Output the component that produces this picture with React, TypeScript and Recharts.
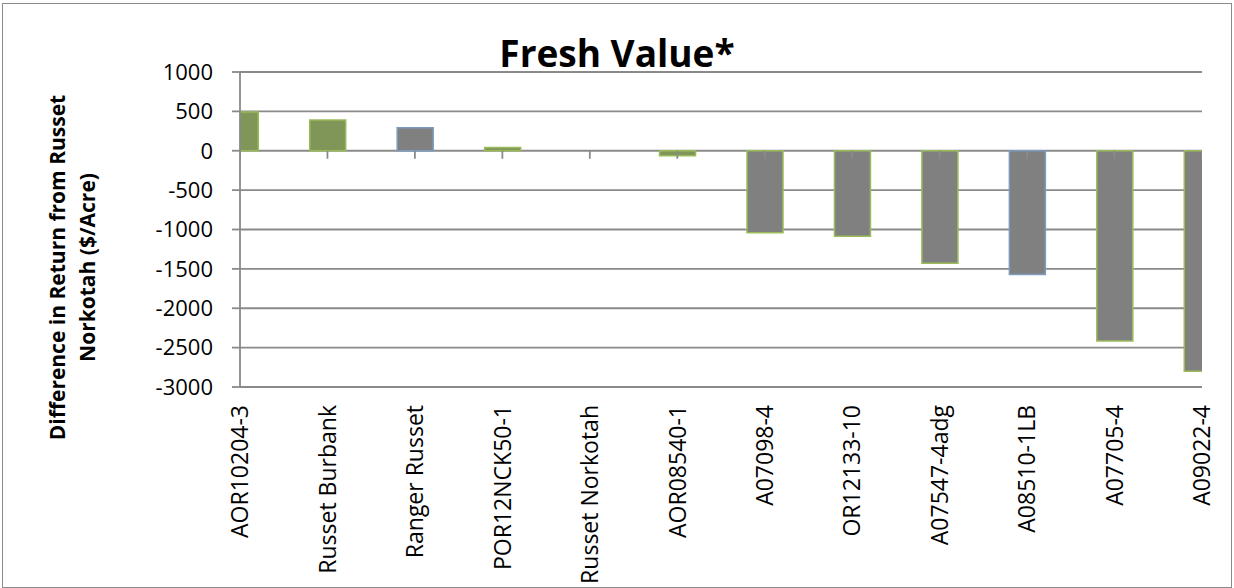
import React from 'react';
import { ComposedChart, Bar, Cell, Scatter, XAxis, YAxis, CartesianGrid } from 'recharts';

const cultivars = [
	'AOR10204-3',
	'Russet Burbank',
	'Ranger Russet',
	'POR12NCK50-1',
	'Russet Norkotah',
	'AOR08540-1',
	'A07098-4',
	'OR12133-10',
	'A07547-4adg',
	'A08510-1LB',
	'A07705-4',
	'A09022-4',
];
const returnDiff = [492, 390, 292, 40, 0, -65, -1040, -1085, -1430, -1570, -2415, -2800];
const yTicks = [1000, 500, 0, -500, -1000, -1500, -2000, -2500, -3000];

// per-bar styling, same order as cultivars
const GREEN = '#809659';
const GRAY = '#808080';
const barFill = [GREEN, GREEN, GRAY, GREEN, GREEN, GREEN, GRAY, GRAY, GRAY, GRAY, GRAY, GRAY];
const barStroke = ['#9BBB59', '#9BBB59', '#7C9CBF', '#9BBB59', '#9BBB59', '#9BBB59', '#9BBB59', '#9BBB59', '#9BBB59', '#7C9CBF', '#9BBB59', '#9BBB59'];

const data = cultivars.map((name, i) => ({ idx: i, name, value: returnDiff[i], base: 0 }));
const xTicks = cultivars.map((_, i) => i);

const AXIS = '#8a8a8a';
const FONT = '"Open Sans", sans-serif';

const CultivarTick = ({ x, y, payload }: any) => (
	<g transform={`translate(${x},${y + 18}) rotate(-90)`}>
		<text x={0} y={0} dy="0.36em" textAnchor="end" fontSize={23} fontFamily={FONT} fill="#000">
			{cultivars[payload.value]}
		</text>
	</g>
);

const ZeroTick = ({ cx, cy }: any) => <line x1={cx} y1={cy} x2={cx} y2={cy + 8} stroke={AXIS} strokeWidth={1.8} />;

const renderYLabel = ({ viewBox }: any) => {
	const cx = 65;
	const cy = viewBox.y + viewBox.height / 2 + 38;
	return (
		<text
			x={cx}
			y={cy}
			transform={`rotate(-90, ${cx}, ${cy})`}
			textAnchor="middle"
			fontSize={21}
			fontWeight="bold"
			fontFamily={FONT}
			fill="#000"
		>
			<tspan x={cx} y={cy}>Difference in Return from Russet</tspan>
			<tspan x={cx} dy={30}>Norkotah ($/Acre)</tspan>
		</text>
	);
};

export default function App() {
	return (
		<div style={{ position: 'fixed', left: 0, top: 0, width: 1234, height: 588, background: '#fff' }}>
			<div
				style={{
					position: 'absolute',
					left: 2,
					top: 3,
					width: 1230,
					height: 585,
					boxSizing: 'border-box',
					border: `1.5px solid ${AXIS}`,
				}}
			/>
			<ComposedChart width={1234} height={588} data={data} margin={{ top: 72, right: 32, left: 0, bottom: 0 }}>
				<CartesianGrid vertical={false} stroke={AXIS} strokeWidth={1.8} />
				<XAxis
					dataKey="idx"
					type="number"
					domain={[0, 11]}
					ticks={xTicks}
					interval={0}
					allowDataOverflow
					height={201}
					axisLine={false}
					tickLine={false}
					tickSize={0}
					tickMargin={0}
					tick={<CultivarTick />}
				/>
				<YAxis
					type="number"
					domain={[-3000, 1000]}
					ticks={yTicks}
					interval={0}
					width={240}
					axisLine={{ stroke: AXIS, strokeWidth: 1.8 }}
					tickLine={{ stroke: AXIS, strokeWidth: 1.8 }}
					tickSize={8}
					tickMargin={19}
					tick={{ fontSize: 22, fontFamily: FONT, fill: '#000' }}
					label={{ content: renderYLabel }}
				/>
				<Bar dataKey="value" barSize={36} isAnimationActive={false} strokeWidth={1.5}>
					{data.map((d, i) => (
						<Cell key={d.name} fill={barFill[i]} stroke={barStroke[i]} />
					))}
				</Bar>
				<Scatter dataKey="base" shape={<ZeroTick />} isAnimationActive={false} />
			</ComposedChart>
			<div
				style={{
					position: 'absolute',
					left: 417,
					top: 34,
					width: 400,
					textAlign: 'center',
					fontFamily: FONT,
					fontWeight: 'bold',
					fontSize: 37,
					lineHeight: '37px',
					color: '#000',
				}}
			>
				Fresh Value*
			</div>
		</div>
	);
}
